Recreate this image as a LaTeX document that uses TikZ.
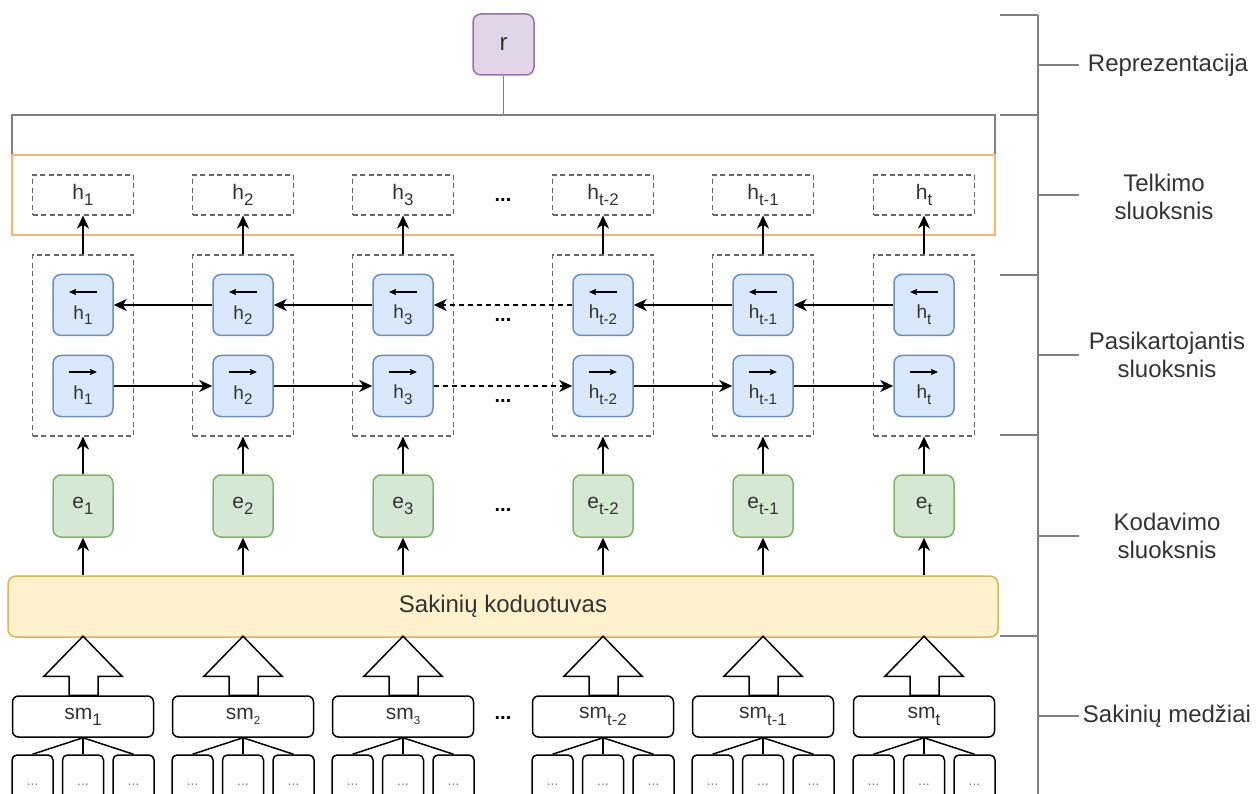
\documentclass[tikz,border=0pt]{standalone}
\usepackage{fontspec}
\setmainfont{Liberation Sans}
\usetikzlibrary{arrows.meta,calc}
\definecolor{txt}{HTML}{333333}
\definecolor{blueF}{HTML}{DAE8FC}\definecolor{blueS}{HTML}{6C8EBF}
\definecolor{greenF}{HTML}{D5E8D4}\definecolor{greenS}{HTML}{82B366}
\definecolor{yelF}{HTML}{FFF2CC}\definecolor{yelS}{HTML}{D6B656}
\definecolor{purF}{HTML}{E1D5E7}\definecolor{purS}{HTML}{9673A6}
\definecolor{orng}{HTML}{FFB366}
\definecolor{brk}{HTML}{808080}
\definecolor{dsh}{HTML}{666666}
% lowered subscripts in two sizes
\newcommand\dn[1]{\raisebox{-0.3em}{\scalebox{0.8}{#1}}}
\newcommand\dnt[1]{\raisebox{-0.25em}{\scalebox{0.55}{#1}}}
\begin{document}
\begin{tikzpicture}[x=1pt,y=-1pt,
  every node/.style={inner sep=0pt, text=txt},
  lbl/.style={font=\fontsize{24}{28}\selectfont, align=center},
  txtm/.style={font=\fontsize{21}{24}\selectfont},
  txts/.style={font=\fontsize{19}{22}\selectfont},
  dots/.style={font=\fontsize{20}{22}\selectfont\bfseries, text=black},
  arr/.style={draw=black, line width=1.8pt, -{Stealth[length=13pt,width=12pt,inset=4pt]}},
  dasharr/.style={arr, dash pattern=on 5pt off 4pt},
  inarr/.style={draw=black, line width=2pt, -{Stealth[length=7pt,width=6pt,inset=1pt]}},
  dbox/.style={draw=dsh, line width=1.2pt, dash pattern=on 5pt off 3.5pt, minimum width=101pt},
  bluebox/.style={draw=blueS, fill=blueF, line width=1.5pt, rounded corners=8pt, minimum width=60pt, minimum height=61pt},
  greenbox/.style={draw=greenS, fill=greenF, line width=1.5pt, rounded corners=8pt, minimum width=60pt, minimum height=62pt, txtm},
  smbox/.style={draw=black, line width=1.5pt, rounded corners=6pt, minimum width=141pt, minimum height=41pt, txtm},
  leaf/.style={draw=black, line width=1.5pt, rounded corners=5pt, minimum width=41pt, minimum height=60pt, font=\fontsize{14}{16}\selectfont, text=gray},
  blockarr/.style={draw=black, fill=white, line width=1.5pt, line join=miter},
  brline/.style={draw=brk, line width=1.5pt}
]
\useasboundingbox (0,0) rectangle (1256,794);
\begin{scope}
\clip (0,0) rectangle (1256,794);

% representation and pooling layer
\node[draw=purS, fill=purF, line width=1.5pt, rounded corners=8pt, minimum width=61pt, minimum height=61pt, lbl] (r) at (503.5,44.5) {r};
\node[draw=brk, line width=1.5pt, minimum width=983pt, minimum height=40pt] (pooltop) at (503.5,135) {};
\node[draw=orng, line width=1.5pt, minimum width=983pt, minimum height=80pt] (pool) at (503.5,195) {};
\draw[brline] (r) -- (pooltop);

% sentence encoder
\node[draw=yelS, fill=yelF, line width=1.5pt, rounded corners=8pt, minimum width=990pt, minimum height=61pt, lbl] (enc) at (503,606.5) {Sakinių koduotuvas};

% columns
\foreach \i/\x/\s/\f in {1/83/1/\dn, 2/243/2/\dnt, 3/403/3/\dnt, 4/603/t-2/\dn, 5/763/t-1/\dn, 6/924/t/\dn}{
  \node[dbox, minimum height=40pt, txtm] (h\i) at (\x,195) {h\dn{\s}};
  \node[dbox, minimum height=181pt] (rec\i) at (\x,345.5) {};
  \node[bluebox] (bb\i) at (\x,305) {};
  \node[bluebox] (bf\i) at (\x,386) {};
  \draw[inarr] ($(bb\i.center)+(14,-13)$) -- ($(bb\i.center)+(-14,-13)$);
  \draw[inarr] ($(bf\i.center)+(-14,-14)$) -- ($(bf\i.center)+(14,-14)$);
  \node[txts] (bbl\i) at ($(bb\i.center)+(0,10)$) {h\dn{\s}};
  \node[txts] (bfl\i) at ($(bf\i.center)+(0,9)$) {h\dn{\s}};
  \node[greenbox] (e\i) at (\x,506) {e\dn{\s}};
  \node[smbox] (sm\i) at (\x,716.5) {sm\f{\s}};
  \node[leaf] (la\i) at (\x-50.5,785) {...};
  \node[leaf] (lb\i) at (\x,785) {...};
  \node[leaf] (lc\i) at (\x+50.5,785) {...};
  \draw[line width=1.5pt] (sm\i.south) -- (la\i.north);
  \draw[line width=1.5pt] (sm\i.south) -- (lb\i.north);
  \draw[line width=1.5pt] (sm\i.south) -- (lc\i.north);
  \draw[blockarr, shift={(sm\i.north)}] (0,-59) -- (39,-19) -- (15,-19) -- (15,0) -- (-14,0) -- (-14,-19) -- (-39,-19) -- cycle;
  \draw[arr] (enc.north -| e\i) -- (e\i.south);
  \draw[arr] (e\i.north) -- (rec\i.south);
  \draw[arr] (rec\i.north) -- (h\i.south);
}

% recurrent connections
\draw[arr] (bb2.west) -- (bb1.east);
\draw[arr] (bb3.west) -- (bb2.east);
\draw[dasharr] (bb4.west) -- (bb3.east);
\draw[arr] (bb5.west) -- (bb4.east);
\draw[arr] (bb6.west) -- (bb5.east);
\draw[arr] (bf1.east) -- (bf2.west);
\draw[arr] (bf2.east) -- (bf3.west);
\draw[dasharr] (bf3.east) -- (bf4.west);
\draw[arr] (bf4.east) -- (bf5.west);
\draw[arr] (bf5.east) -- (bf6.west);

% ellipses between columns
\node[dots] (d1) at (503,200) {...};
\node[dots] (d2) at (503,320) {...};
\node[dots] (d3) at (503,401) {...};
\node[dots] (d4) at (503,510) {...};
\node[dots] (d5) at (503,718) {...};

% layer brackets
\draw[brline] (1038,15) -- (1038,794);
\foreach \y in {15,115,275,435,636} \draw[brline] (1000,\y) -- (1038,\y);
\foreach \y in {65,195,355,536,716} \draw[brline] (1038,\y) -- (1079,\y);
\node[lbl] (l1) at (1168,65) {Reprezentacija};
\node[lbl] (l2) at (1164,197) {Telkimo\\sluoksnis};
\node[lbl] (l3) at (1167,355) {Pasikartojantis\\sluoksnis};
\node[lbl] (l4) at (1167,536) {Kodavimo\\sluoksnis};
\node[lbl] (l5) at (1167,716) {Sakinių medžiai};
\end{scope}
\end{tikzpicture}
\end{document}
